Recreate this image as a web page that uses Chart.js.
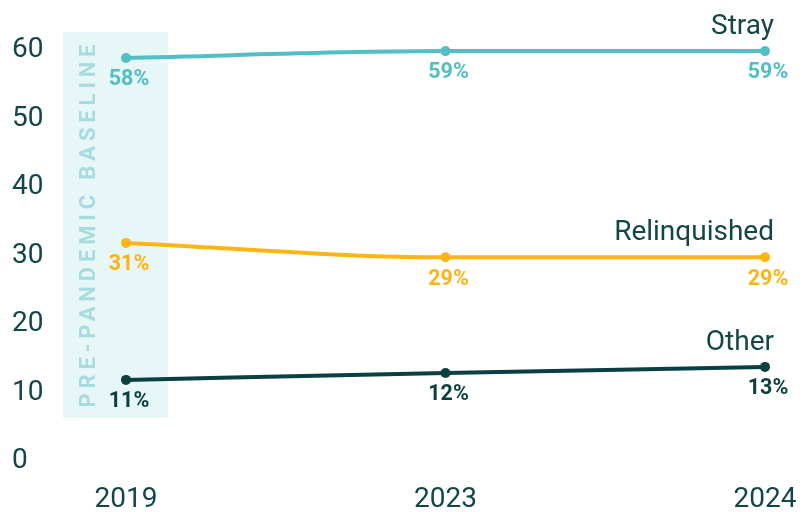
<!DOCTYPE html>
<html>
<head>
<meta charset="utf-8">
<script src="https://cdn.jsdelivr.net/npm/chart.js@4.4.1/dist/chart.umd.min.js"></script>
<style>
  html, body { margin: 0; padding: 0; background: #ffffff; }
  #wrap { width: 809px; height: 512px; position: relative; }
</style>
</head>
<body>
<div id="wrap"><canvas id="intakeChart"></canvas></div>
<script>
// Chart data
const years = ['2019', '2023', '2024'];
const strayValues = [58.4, 59.4, 59.4];
const relinquishedValues = [31.4, 29.3, 29.3];
const otherValues = [11.4, 12.4, 13.3];
const strayLabels = ['58%', '59%', '59%'];
const relinquishedLabels = ['31%', '29%', '29%'];
const otherLabels = ['11%', '12%', '13%'];
const seriesNames = ['Stray', 'Relinquished', 'Other'];
const yTicks = [0, 10, 20, 30, 40, 50, 60];

const colorStray = '#52bfc5';
const colorRelinquished = '#fdb515';
const colorOther = '#0b3f41';
const colorText = '#124649';
const fontFamily = "Roboto, 'Noto Sans', sans-serif";

const pointLabels = [strayLabels, relinquishedLabels, otherLabels];

// Shaded "pre-pandemic baseline" band behind the 2019 points
const baselineBand = {
    id: 'baselineBand',
    beforeDatasetsDraw(chart) {
        const { ctx, chartArea, scales } = chart;
        const x0 = scales.x.getPixelForValue(0);
        const left = x0 - 63;
        const right = x0 + 42;
        const top = chartArea.top - 15;
        const bottom = chartArea.bottom - 40;
        const label = 'PRE-PANDEMIC BASELINE';
        const targetLength = 363;
        ctx.save();
        ctx.fillStyle = '#e7f6f7';
        ctx.fillRect(left, top, right - left, bottom - top);
        ctx.translate(left + 26, (top + bottom) / 2 + 1);
        ctx.rotate(-Math.PI / 2);
        ctx.fillStyle = '#a6dcdf';
        ctx.font = "bold 22px " + fontFamily;
        const natural = ctx.measureText(label).width;
        ctx.letterSpacing = ((targetLength - natural) / (label.length - 1)) + 'px';
        ctx.textAlign = 'left';
        ctx.textBaseline = 'middle';
        ctx.fillText(label, -targetLength / 2, 0);
        ctx.restore();
    }
};

// Percent labels under the points and series names at the line ends
const lineLabels = {
    id: 'lineLabels',
    afterDatasetsDraw(chart) {
        const { ctx } = chart;
        ctx.save();
        chart.data.datasets.forEach((ds, i) => {
            const meta = chart.getDatasetMeta(i);
            ctx.fillStyle = ds.borderColor;
            ctx.font = "bold 21.5px " + fontFamily;
            ctx.textAlign = 'center';
            ctx.textBaseline = 'middle';
            meta.data.forEach((pt, j) => {
                ctx.fillText(pointLabels[i][j], pt.x + 3, pt.y + 22);
            });
            const last = meta.data[meta.data.length - 1];
            ctx.fillStyle = colorText;
            ctx.font = "28px " + fontFamily;
            ctx.textAlign = 'right';
            ctx.textBaseline = 'alphabetic';
            ctx.fillText(seriesNames[i], last.x + 9, last.y - 17);
        });
        ctx.restore();
    }
};

function makeDataset(label, values, color) {
    return {
        label: label,
        data: values,
        borderColor: color,
        backgroundColor: color,
        borderWidth: 4,
        pointRadius: 5,
        pointHoverRadius: 5,
        pointBackgroundColor: color,
        pointBorderWidth: 0,
        cubicInterpolationMode: 'monotone',
        clip: false
    };
}

new Chart(document.getElementById('intakeChart'), {
    type: 'line',
    data: {
        labels: years,
        datasets: [
            makeDataset(seriesNames[0], strayValues, colorStray),
            makeDataset(seriesNames[1], relinquishedValues, colorRelinquished),
            makeDataset(seriesNames[2], otherValues, colorOther)
        ]
    },
    options: {
        responsive: true,
        maintainAspectRatio: false,
        animation: false,
        layout: { padding: { top: 47, right: 44, left: 12, bottom: 0 } },
        plugins: {
            legend: { display: false },
            tooltip: { enabled: false }
        },
        scales: {
            x: {
                grid: { display: false, drawTicks: false },
                border: { display: false },
                afterFit: scale => {
                    scale.height = 54;
                    scale.paddingLeft = 0;
                    scale.paddingRight = 0;
                },
                ticks: {
                    color: colorText,
                    padding: 25,
                    maxRotation: 0,
                    font: { family: fontFamily, size: 28 }
                }
            },
            y: {
                min: 0,
                max: 60,
                grid: { display: false, drawTicks: false },
                border: { display: false },
                afterFit: scale => { scale.width = 114; },
                afterBuildTicks: scale => { scale.ticks = yTicks.map(v => ({ value: v })); },
                ticks: {
                    color: colorText,
                    crossAlign: 'far',
                    padding: 0,
                    labelOffset: 3,
                    font: { family: fontFamily, size: 28 }
                }
            }
        }
    },
    plugins: [baselineBand, lineLabels]
});
</script>
</body>
</html>
